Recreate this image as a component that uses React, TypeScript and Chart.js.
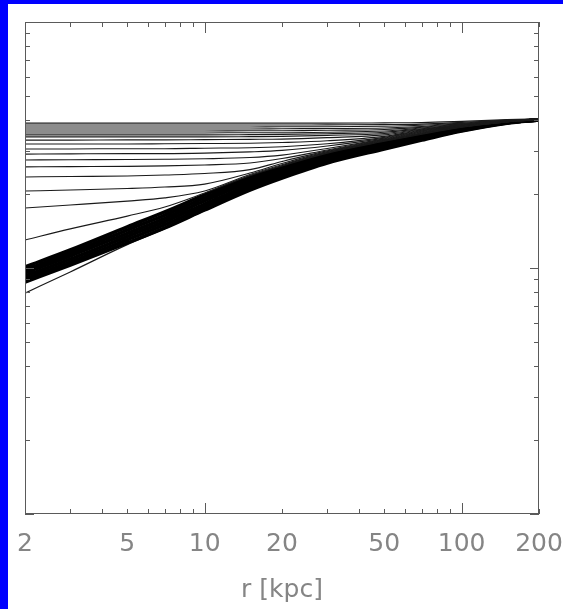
import React, { useEffect, useRef } from "react";
import { Chart, registerables } from "chart.js";

Chart.register(...registerables);

// radius sample points (kpc)
const radiusKpc = [2, 3, 5, 7, 10, 15, 20, 30, 50, 70, 100, 150, 200];
const xTickLabels = [2, 5, 10, 20, 50, 100, 200];
const xAxisTitle = "r [kpc]";

// curves, values in log10 units (y axis spans -1 .. 1)
// upper (flat-start) family, top to bottom
const upper01 = [0.589, 0.589, 0.589, 0.589, 0.589, 0.589, 0.589, 0.589, 0.590, 0.591, 0.596, 0.603, 0.606];
const upper02 = [0.581, 0.581, 0.581, 0.581, 0.581, 0.581, 0.581, 0.582, 0.583, 0.585, 0.592, 0.601, 0.605];
const upper03 = [0.573, 0.573, 0.573, 0.573, 0.573, 0.573, 0.574, 0.574, 0.576, 0.580, 0.589, 0.600, 0.605];
const upper04 = [0.565, 0.565, 0.565, 0.565, 0.565, 0.565, 0.566, 0.567, 0.569, 0.575, 0.587, 0.599, 0.605];
const upper05 = [0.557, 0.557, 0.557, 0.557, 0.557, 0.558, 0.558, 0.560, 0.563, 0.572, 0.585, 0.598, 0.604];
const upper06 = [0.549, 0.549, 0.549, 0.549, 0.549, 0.550, 0.550, 0.552, 0.557, 0.569, 0.583, 0.598, 0.604];
const upper07 = [0.541, 0.541, 0.541, 0.541, 0.541, 0.542, 0.543, 0.546, 0.552, 0.566, 0.582, 0.598, 0.604];
const upper08 = [0.533, 0.533, 0.533, 0.533, 0.533, 0.534, 0.535, 0.539, 0.547, 0.564, 0.580, 0.597, 0.604];
const upper09 = [0.520, 0.520, 0.521, 0.521, 0.522, 0.523, 0.524, 0.530, 0.541, 0.562, 0.579, 0.597, 0.604];
const upper10 = [0.504, 0.504, 0.504, 0.505, 0.506, 0.507, 0.510, 0.517, 0.535, 0.560, 0.578, 0.596, 0.604];
const upper11 = [0.484, 0.484, 0.485, 0.485, 0.487, 0.489, 0.493, 0.505, 0.531, 0.558, 0.577, 0.596, 0.603];
const upper12 = [0.463, 0.464, 0.465, 0.465, 0.467, 0.472, 0.478, 0.496, 0.528, 0.556, 0.576, 0.596, 0.603];
const upper13 = [0.439, 0.440, 0.441, 0.442, 0.444, 0.449, 0.459, 0.486, 0.525, 0.554, 0.576, 0.595, 0.603];
const upper14 = [0.411, 0.412, 0.413, 0.415, 0.419, 0.427, 0.445, 0.480, 0.523, 0.552, 0.576, 0.595, 0.603];
const upper15 = [0.370, 0.372, 0.374, 0.378, 0.384, 0.400, 0.433, 0.476, 0.521, 0.550, 0.575, 0.595, 0.602];
const upper16 = [0.313, 0.317, 0.323, 0.329, 0.341, 0.386, 0.425, 0.473, 0.519, 0.548, 0.574, 0.594, 0.602];
const upper17 = [0.244, 0.256, 0.272, 0.285, 0.313, 0.380, 0.420, 0.470, 0.517, 0.546, 0.573, 0.594, 0.602];
const upper18 = [0.114, 0.159, 0.211, 0.248, 0.305, 0.375, 0.415, 0.467, 0.515, 0.544, 0.572, 0.594, 0.602];

// dense lower envelope band, top to bottom
const band1 = [0.004, 0.073, 0.167, 0.228, 0.297, 0.370, 0.411, 0.463, 0.512, 0.541, 0.569, 0.593, 0.602];
const band2 = [-0.008, 0.061, 0.154, 0.215, 0.285, 0.359, 0.402, 0.456, 0.506, 0.537, 0.567, 0.592, 0.602];
const band3 = [-0.020, 0.049, 0.141, 0.202, 0.273, 0.349, 0.393, 0.449, 0.501, 0.533, 0.564, 0.591, 0.602];
const band4 = [-0.033, 0.036, 0.128, 0.189, 0.260, 0.338, 0.384, 0.441, 0.495, 0.528, 0.562, 0.591, 0.602];
const band5 = [-0.045, 0.024, 0.115, 0.176, 0.248, 0.328, 0.375, 0.434, 0.490, 0.524, 0.559, 0.590, 0.602];
const band6 = [-0.057, 0.012, 0.102, 0.163, 0.236, 0.317, 0.366, 0.427, 0.484, 0.520, 0.557, 0.589, 0.602];

// lowest curve
const lowest = [-0.102, -0.016, 0.095, 0.160, 0.234, 0.316, 0.365, 0.426, 0.483, 0.519, 0.556, 0.589, 0.602];

const upperCurves = [
  upper01, upper02, upper03, upper04, upper05, upper06, upper07, upper08, upper09,
  upper10, upper11, upper12, upper13, upper14, upper15, upper16, upper17, upper18,
];
const bandCurves = [band1, band2, band3, band4, band5, band6];

const yMinLog = -1;
const yMaxLog = 1;

const FONT = "'DejaVu Sans', 'Liberation Sans', sans-serif";
const TEXT_GRAY = "#858585";

const frameTicksPlugin = {
  id: "frameTicks",
  afterDatasetsDraw(chart: any) {
    const { ctx, chartArea } = chart;
    const { left, right, top, bottom } = chartArea;
    const xs = chart.scales.x;
    const ys = chart.scales.y;
    ctx.save();
    ctx.strokeStyle = "#5a5a5a";
    ctx.lineWidth = 1;
    ctx.strokeRect(left + 0.5, top + 0.5, right - left - 1, bottom - top - 1);
    ctx.beginPath();
    // x ticks (bottom & top, inward), log decade ticks
    const xMin = xs.min;
    const xMax = xs.max;
    for (let e = Math.floor(Math.log10(xMin)); e <= Math.ceil(Math.log10(xMax)); e++) {
      for (let k = 1; k <= 9; k++) {
        const v = k * Math.pow(10, e);
        if (v < xMin - 1e-9 || v > xMax + 1e-9) continue;
        const len = k === 1 ? 11 : 5;
        const px = Math.round(xs.getPixelForValue(v)) + 0.5;
        ctx.moveTo(px, bottom);
        ctx.lineTo(px, bottom - len);
        ctx.moveTo(px, top);
        ctx.lineTo(px, top + len);
      }
    }
    // y ticks (log decades mapped to log10 values)
    for (let e = yMinLog; e <= yMaxLog; e++) {
      for (let k = 1; k <= 9; k++) {
        const v = e + Math.log10(k);
        if (v > yMaxLog + 1e-9) break;
        const len = k === 1 ? 9 : 5;
        const py = Math.round(ys.getPixelForValue(v)) + 0.5;
        ctx.moveTo(left, py);
        ctx.lineTo(left + len, py);
        ctx.moveTo(right, py);
        ctx.lineTo(right - len, py);
      }
    }
    ctx.stroke();

    // x tick labels and axis title
    ctx.fillStyle = TEXT_GRAY;
    ctx.font = `25px ${FONT}`;
    ctx.textAlign = "center";
    ctx.textBaseline = "middle";
    for (const v of xTickLabels) {
      ctx.fillText(String(v), xs.getPixelForValue(v), bottom + 30);
    }
    ctx.fillText(xAxisTitle, (left + right) / 2, bottom + 76);
    ctx.restore();
  },
};

export default function App() {
  const canvasRef = useRef<HTMLCanvasElement | null>(null);

  useEffect(() => {
    const canvas = canvasRef.current;
    if (!canvas) return;

    const toPoints = (vals: number[]) => radiusKpc.map((r, i) => ({ x: r, y: vals[i] }));

    const datasets: any[] = [];
    upperCurves.forEach((vals) => {
      datasets.push({
        data: toPoints(vals),
        borderColor: "#1a1a1a",
        borderWidth: 1.1,
        pointRadius: 0,
        fill: false,
        cubicInterpolationMode: "monotone",
      });
    });
    bandCurves.forEach((vals) => {
      datasets.push({
        data: toPoints(vals),
        borderColor: "#000",
        borderWidth: 3.6,
        pointRadius: 0,
        fill: false,
        cubicInterpolationMode: "monotone",
      });
    });
    datasets.push({
      data: toPoints(lowest),
      borderColor: "#1a1a1a",
      borderWidth: 1.2,
      pointRadius: 0,
      fill: false,
      cubicInterpolationMode: "monotone",
    });

    const chart = new Chart(canvas, {
      type: "line",
      data: { datasets },
      options: {
        animation: false,
        responsive: false,
        devicePixelRatio: 1,
        layout: { padding: { left: 17, right: 24, top: 18, bottom: 95 } },
        plugins: { legend: { display: false }, tooltip: { enabled: false } },
        scales: {
          x: {
            type: "logarithmic",
            min: 2,
            max: 200,
            display: false,
          },
          y: {
            type: "linear",
            min: yMinLog,
            max: yMaxLog,
            display: false,
          },
        },
      },
      plugins: [frameTicksPlugin],
    });

    return () => chart.destroy();
  }, []);

  return (
    <div style={{ position: "relative", width: 563, height: 609, background: "#0000ff", overflow: "hidden" }}>
      <style>{"body{margin:0}"}</style>
      <div style={{ position: "absolute", left: 8, top: 4, width: 555, height: 605, background: "#fff" }}>
        <canvas ref={canvasRef} width={555} height={605} style={{ display: "block" }} />
      </div>
    </div>
  );
}
